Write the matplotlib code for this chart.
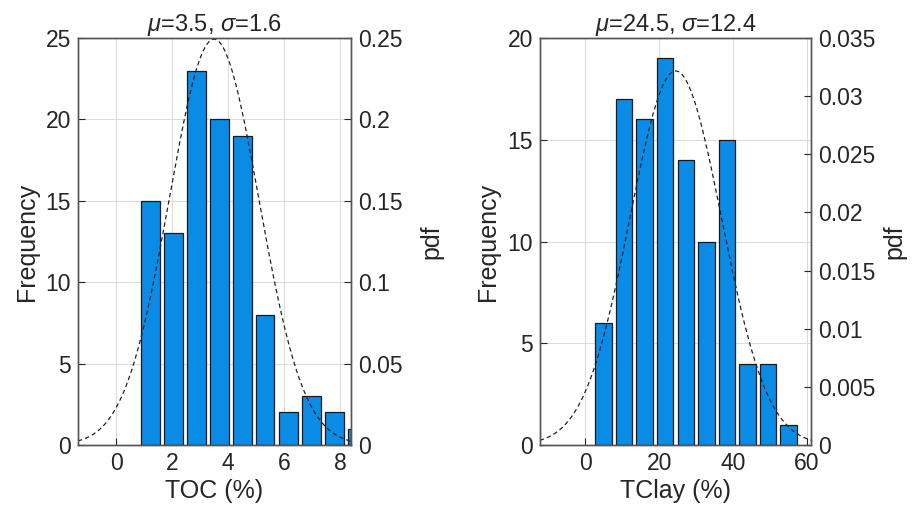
import numpy as np
import matplotlib
matplotlib.use('Agg')
import matplotlib.pyplot as plt

plt.rcParams['font.family'] = ['Liberation Sans', 'DejaVu Sans']
plt.rcParams['mathtext.fontset'] = 'custom'
plt.rcParams['mathtext.rm'] = 'Liberation Sans'
plt.rcParams['mathtext.it'] = 'Liberation Sans:italic'

# histogram data
toc_centers = [1.23, 2.05, 2.87, 3.69, 4.51, 5.33, 6.16, 6.98, 7.80, 8.62]
toc_counts = [15, 13, 23, 20, 19, 8, 2, 3, 2, 1]
toc_mu, toc_sigma = 3.5, 1.6

clay_centers = [4.97, 10.54, 16.10, 21.67, 27.23, 32.80, 38.36, 43.93, 49.49, 55.06]
clay_counts = [6, 17, 16, 19, 14, 10, 15, 4, 4, 1]
clay_mu, clay_sigma = 24.5, 12.4

panels = [
    dict(centers=toc_centers, counts=toc_counts, mu=toc_mu, sigma=toc_sigma,
         xlim=(-1.36, 8.39), xticks=[0, 2, 4, 6, 8], ylim=(0, 25), yticks=[0, 5, 10, 15, 20, 25],
         pdflim=(0, 0.25), pdfticks=[0, 0.05, 0.1, 0.15, 0.2, 0.25],
         pdflabels=['0', '0.05', '0.1', '0.15', '0.2', '0.25'],
         xlabel='TOC (%)', title=r'$\mu$=3.5, $\sigma$=1.6', pdfpad=12,
         rect=[0.0853, 0.136, 0.2987, 0.790]),
    dict(centers=clay_centers, counts=clay_counts, mu=clay_mu, sigma=clay_sigma,
         xlim=(-12.3, 61.1), xticks=[0, 20, 40, 60], ylim=(0, 20), yticks=[0, 5, 10, 15, 20],
         pdflim=(0, 0.035), pdfticks=[0, 0.005, 0.01, 0.015, 0.02, 0.025, 0.03, 0.035],
         pdflabels=['0', '0.005', '0.01', '0.015', '0.02', '0.025', '0.03', '0.035'],
         xlabel='TClay (%)', title=r'$\mu$=24.5, $\sigma$=12.4', pdfpad=5,
         rect=[0.5905, 0.136, 0.2968, 0.790]),
]

fig = plt.figure(figsize=(9.14, 5.15), dpi=100)
fc = '#262626'
fs = 16.5

for p in panels:
    ax = fig.add_axes(p['rect'])
    w = (p['centers'][1] - p['centers'][0]) * 0.8
    ax.bar(p['centers'], p['counts'], width=w, color='#0A8CE6', edgecolor='#1a1a1a',
           linewidth=0.9, zorder=2)
    ax.set_xlim(*p['xlim'])
    ax.set_ylim(*p['ylim'])
    ax.set_xticks(p['xticks'])
    ax.set_yticks(p['yticks'])
    ax.grid(True, color='#dcdcdc', linewidth=0.8, zorder=0)
    ax.set_axisbelow(True)
    ax.tick_params(direction='in', length=5, labelsize=fs, colors=fc, width=0.8, pad=5)
    ax.set_ylabel('Frequency', fontsize=18, color=fc, labelpad=5)
    ax.set_xlabel(p['xlabel'], fontsize=18, color=fc, labelpad=3)
    ax.set_title(p['title'], fontsize=17, color=fc, pad=1)
    for s in ax.spines.values():
        s.set_color('#555555')
        s.set_linewidth(1.0)

    ax2 = ax.twinx()
    xs = np.linspace(p['xlim'][0], p['xlim'][1], 300)
    pdf = np.exp(-0.5 * ((xs - p['mu']) / p['sigma']) ** 2) / (p['sigma'] * np.sqrt(2 * np.pi))
    ax2.plot(xs, pdf, color='#222222', linestyle=(0, (3.5, 2.5)), linewidth=0.9)
    ax2.set_ylim(*p['pdflim'])
    ax2.set_yticks(p['pdfticks'])
    ax2.set_yticklabels(p['pdflabels'])
    ax2.tick_params(direction='in', length=5, labelsize=fs, colors=fc, width=0.8, pad=5)
    ax2.set_ylabel('pdf', fontsize=18, color=fc, labelpad=p['pdfpad'])
    for s in ax2.spines.values():
        s.set_color('#555555')
        s.set_linewidth(1.0)

fig.savefig('out.png', dpi=100)
